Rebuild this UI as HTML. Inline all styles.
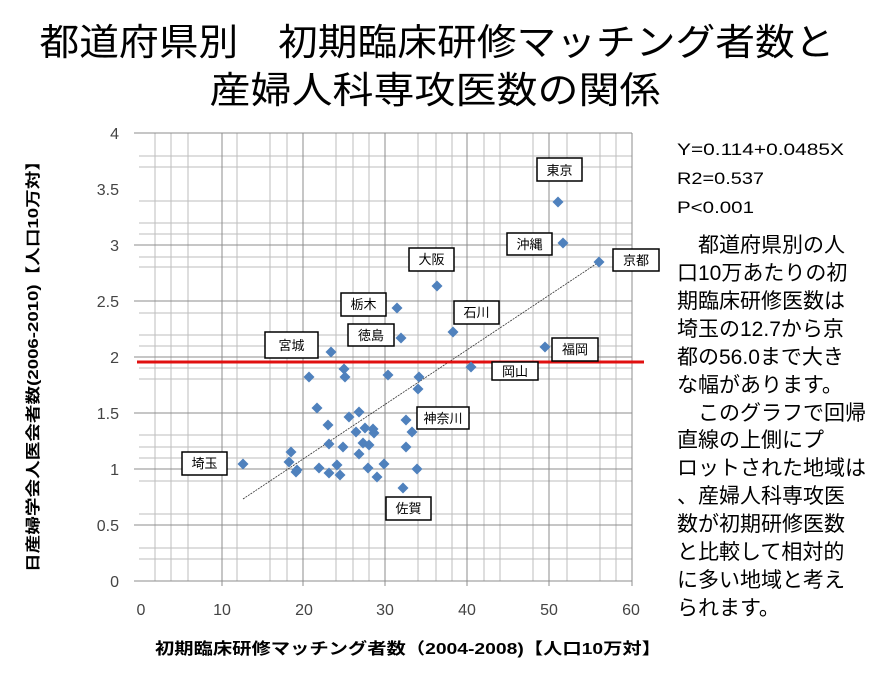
<!DOCTYPE html>
<html><head><meta charset="utf-8"><style>
html,body{margin:0;padding:0;background:#fff;}
body{width:872px;height:672px;overflow:hidden;font-family:"Liberation Sans","Noto Sans CJK JP",sans-serif;}
</style></head><body>
<svg width="872" height="672" viewBox="0 0 872 672" xmlns="http://www.w3.org/2000/svg" font-family="Liberation Sans, Noto Sans CJK JP, sans-serif">
<rect width="872" height="672" fill="#fff"/>
<text x="437" y="55" font-size="37" text-anchor="middle" fill="#000" textLength="795" lengthAdjust="spacingAndGlyphs">都道府県別　初期臨床研修マッチング者数と</text>
<text x="435" y="103" font-size="37" text-anchor="middle" fill="#000" textLength="451" lengthAdjust="spacingAndGlyphs">産婦人科専攻医数の関係</text>
<g stroke="#bdbdbd" stroke-width="1">
<line x1="155" y1="133" x2="155" y2="581"/><line x1="171" y1="133" x2="171" y2="581"/><line x1="188" y1="133" x2="188" y2="581"/>
<line x1="237" y1="133" x2="237" y2="581"/><line x1="270" y1="133" x2="270" y2="581"/><line x1="287" y1="133" x2="287" y2="581"/>
<line x1="336" y1="133" x2="336" y2="581"/><line x1="353" y1="133" x2="353" y2="581"/><line x1="369" y1="133" x2="369" y2="581"/>
<line x1="418" y1="133" x2="418" y2="581"/><line x1="436" y1="133" x2="436" y2="581"/><line x1="452" y1="133" x2="452" y2="581"/>
<line x1="484" y1="133" x2="484" y2="581"/><line x1="500" y1="133" x2="500" y2="581"/><line x1="533" y1="133" x2="533" y2="581"/>
<line x1="567" y1="133" x2="567" y2="581"/><line x1="600" y1="133" x2="600" y2="581"/><line x1="616" y1="133" x2="616" y2="581"/>
<line x1="139" y1="156" x2="632" y2="156"/><line x1="139" y1="167" x2="632" y2="167"/><line x1="139" y1="201" x2="632" y2="201"/>
<line x1="139" y1="223" x2="632" y2="223"/><line x1="139" y1="234" x2="632" y2="234"/><line x1="139" y1="257" x2="632" y2="257"/>
<line x1="139" y1="267" x2="632" y2="267"/><line x1="139" y1="313" x2="632" y2="313"/><line x1="139" y1="335" x2="632" y2="335"/>
<line x1="139" y1="346" x2="632" y2="346"/><line x1="139" y1="368" x2="632" y2="368"/><line x1="139" y1="379" x2="632" y2="379"/>
<line x1="139" y1="435" x2="632" y2="435"/><line x1="139" y1="447" x2="632" y2="447"/><line x1="139" y1="458" x2="632" y2="458"/>
<line x1="139" y1="481" x2="632" y2="481"/><line x1="139" y1="514" x2="632" y2="514"/><line x1="139" y1="548" x2="632" y2="548"/>
<line x1="139" y1="559" x2="632" y2="559"/>
</g>
<g stroke="#8c8c8c" stroke-width="1">
<line x1="222" y1="133" x2="222" y2="586"/><line x1="303" y1="133" x2="303" y2="586"/><line x1="385" y1="133" x2="385" y2="586"/>
<line x1="467" y1="133" x2="467" y2="586"/><line x1="549" y1="133" x2="549" y2="586"/><line x1="632" y1="133" x2="632" y2="586"/>
<line x1="134" y1="133" x2="632" y2="133"/><line x1="134" y1="245" x2="632" y2="245"/><line x1="134" y1="301" x2="632" y2="301"/>
<line x1="134" y1="357" x2="632" y2="357"/><line x1="134" y1="413" x2="632" y2="413"/><line x1="134" y1="469" x2="632" y2="469"/>
<line x1="134" y1="525" x2="632" y2="525"/><line x1="134" y1="581" x2="632" y2="581"/>
</g>
<g font-size="16" fill="#444" text-anchor="end">
<text x="119" y="139">4</text><text x="119" y="195">3.5</text><text x="119" y="251">3</text><text x="119" y="307">2.5</text>
<text x="119" y="363">2</text><text x="119" y="419">1.5</text><text x="119" y="475">1</text><text x="119" y="531">0.5</text><text x="119" y="587">0</text>
</g>
<g font-size="16" fill="#444" text-anchor="middle">
<text x="141" y="615">0</text><text x="222" y="615">10</text><text x="304" y="615">20</text><text x="385" y="615">30</text>
<text x="467" y="615">40</text><text x="549" y="615">50</text><text x="631" y="615">60</text>
</g>
<line x1="243" y1="499" x2="599" y2="262" stroke="#333" stroke-width="0.8" stroke-dasharray="2,1"/>
<line x1="137" y1="362" x2="644" y2="362" stroke="#e01010" stroke-width="3"/>
<g fill="#4f81bd">
<path d="M0,-5.5L5.5,0L0,5.5L-5.5,0Z" transform="translate(558,202)"/>
<path d="M0,-5.5L5.5,0L0,5.5L-5.5,0Z" transform="translate(563,243)"/>
<path d="M0,-5.5L5.5,0L0,5.5L-5.5,0Z" transform="translate(599,262)"/>
<path d="M0,-5.5L5.5,0L0,5.5L-5.5,0Z" transform="translate(437,286)"/>
<path d="M0,-5.5L5.5,0L0,5.5L-5.5,0Z" transform="translate(397,308)"/>
<path d="M0,-5.5L5.5,0L0,5.5L-5.5,0Z" transform="translate(453,332)"/>
<path d="M0,-5.5L5.5,0L0,5.5L-5.5,0Z" transform="translate(401,338)"/>
<path d="M0,-5.5L5.5,0L0,5.5L-5.5,0Z" transform="translate(331,352)"/>
<path d="M0,-5.5L5.5,0L0,5.5L-5.5,0Z" transform="translate(545,347)"/>
<path d="M0,-5.5L5.5,0L0,5.5L-5.5,0Z" transform="translate(471,367)"/>
<path d="M0,-5.5L5.5,0L0,5.5L-5.5,0Z" transform="translate(344,369)"/>
<path d="M0,-5.5L5.5,0L0,5.5L-5.5,0Z" transform="translate(345,377)"/>
<path d="M0,-5.5L5.5,0L0,5.5L-5.5,0Z" transform="translate(309,377)"/>
<path d="M0,-5.5L5.5,0L0,5.5L-5.5,0Z" transform="translate(388,375)"/>
<path d="M0,-5.5L5.5,0L0,5.5L-5.5,0Z" transform="translate(419,377)"/>
<path d="M0,-5.5L5.5,0L0,5.5L-5.5,0Z" transform="translate(418,389)"/>
<path d="M0,-5.5L5.5,0L0,5.5L-5.5,0Z" transform="translate(317,408)"/>
<path d="M0,-5.5L5.5,0L0,5.5L-5.5,0Z" transform="translate(359,412)"/>
<path d="M0,-5.5L5.5,0L0,5.5L-5.5,0Z" transform="translate(349,417)"/>
<path d="M0,-5.5L5.5,0L0,5.5L-5.5,0Z" transform="translate(406,420)"/>
<path d="M0,-5.5L5.5,0L0,5.5L-5.5,0Z" transform="translate(328,425)"/>
<path d="M0,-5.5L5.5,0L0,5.5L-5.5,0Z" transform="translate(356,432)"/>
<path d="M0,-5.5L5.5,0L0,5.5L-5.5,0Z" transform="translate(365,428)"/>
<path d="M0,-5.5L5.5,0L0,5.5L-5.5,0Z" transform="translate(373,429)"/>
<path d="M0,-5.5L5.5,0L0,5.5L-5.5,0Z" transform="translate(374,433)"/>
<path d="M0,-5.5L5.5,0L0,5.5L-5.5,0Z" transform="translate(412,432)"/>
<path d="M0,-5.5L5.5,0L0,5.5L-5.5,0Z" transform="translate(329,444)"/>
<path d="M0,-5.5L5.5,0L0,5.5L-5.5,0Z" transform="translate(343,447)"/>
<path d="M0,-5.5L5.5,0L0,5.5L-5.5,0Z" transform="translate(363,443)"/>
<path d="M0,-5.5L5.5,0L0,5.5L-5.5,0Z" transform="translate(369,445)"/>
<path d="M0,-5.5L5.5,0L0,5.5L-5.5,0Z" transform="translate(406,447)"/>
<path d="M0,-5.5L5.5,0L0,5.5L-5.5,0Z" transform="translate(359,454)"/>
<path d="M0,-5.5L5.5,0L0,5.5L-5.5,0Z" transform="translate(291,452)"/>
<path d="M0,-5.5L5.5,0L0,5.5L-5.5,0Z" transform="translate(243,464)"/>
<path d="M0,-5.5L5.5,0L0,5.5L-5.5,0Z" transform="translate(289,462)"/>
<path d="M0,-5.5L5.5,0L0,5.5L-5.5,0Z" transform="translate(296,472)"/>
<path d="M0,-5.5L5.5,0L0,5.5L-5.5,0Z" transform="translate(297,470)"/>
<path d="M0,-5.5L5.5,0L0,5.5L-5.5,0Z" transform="translate(319,468)"/>
<path d="M0,-5.5L5.5,0L0,5.5L-5.5,0Z" transform="translate(337,465)"/>
<path d="M0,-5.5L5.5,0L0,5.5L-5.5,0Z" transform="translate(329,473)"/>
<path d="M0,-5.5L5.5,0L0,5.5L-5.5,0Z" transform="translate(340,475)"/>
<path d="M0,-5.5L5.5,0L0,5.5L-5.5,0Z" transform="translate(368,468)"/>
<path d="M0,-5.5L5.5,0L0,5.5L-5.5,0Z" transform="translate(384,464)"/>
<path d="M0,-5.5L5.5,0L0,5.5L-5.5,0Z" transform="translate(377,477)"/>
<path d="M0,-5.5L5.5,0L0,5.5L-5.5,0Z" transform="translate(417,469)"/>
<path d="M0,-5.5L5.5,0L0,5.5L-5.5,0Z" transform="translate(403,488)"/>
</g>
<g font-size="13" text-anchor="middle" fill="#000">
<g><rect x="537" y="158" width="45" height="23" fill="#fff" stroke="#000" stroke-width="1.5"/><text x="559.5" y="175">東京</text></g>
<g><rect x="507" y="233" width="45" height="22" fill="#fff" stroke="#000" stroke-width="1.5"/><text x="529.5" y="249">沖縄</text></g>
<g><rect x="613" y="249" width="46" height="22" fill="#fff" stroke="#000" stroke-width="1.5"/><text x="636" y="265">京都</text></g>
<g><rect x="409" y="248" width="45" height="23" fill="#fff" stroke="#000" stroke-width="1.5"/><text x="431.5" y="264">大阪</text></g>
<g><rect x="341" y="293" width="45" height="23" fill="#fff" stroke="#000" stroke-width="1.5"/><text x="363.5" y="309">栃木</text></g>
<g><rect x="454" y="301" width="45" height="23" fill="#fff" stroke="#000" stroke-width="1.5"/><text x="476.5" y="317">石川</text></g>
<g><rect x="348" y="324" width="46" height="22" fill="#fff" stroke="#000" stroke-width="1.5"/><text x="371" y="340">徳島</text></g>
<g><rect x="265" y="332" width="53" height="26" fill="#fff" stroke="#000" stroke-width="1.5"/><text x="291.5" y="350">宮城</text></g>
<g><rect x="552" y="338" width="46" height="23" fill="#fff" stroke="#000" stroke-width="1.5"/><text x="575" y="354">福岡</text></g>
<g><rect x="492" y="362" width="46" height="18" fill="#fff" stroke="#000" stroke-width="1.5"/><text x="515" y="376">岡山</text></g>
<g><rect x="417" y="407" width="52" height="22" fill="#fff" stroke="#000" stroke-width="1.5"/><text x="443" y="423">神奈川</text></g>
<g><rect x="182" y="452" width="45" height="23" fill="#fff" stroke="#000" stroke-width="1.5"/><text x="204.5" y="468">埼玉</text></g>
<g><rect x="386" y="497" width="45" height="23" fill="#fff" stroke="#000" stroke-width="1.5"/><text x="408.5" y="513">佐賀</text></g>
</g>
<text x="408" y="654" font-size="16" font-weight="bold" text-anchor="middle" fill="#000" textLength="506" lengthAdjust="spacingAndGlyphs">初期臨床研修マッチング者数（2004-2008)【人口10万対】</text>
<text transform="translate(38,362) rotate(-90)" font-size="15" font-weight="bold" text-anchor="middle" fill="#000" textLength="420" lengthAdjust="spacingAndGlyphs">日産婦学会人医会者数(2006-2010)【人口10万対】</text>
<g font-size="17" fill="#000">
<text x="677" y="155" textLength="167" lengthAdjust="spacingAndGlyphs">Y=0.114+0.0485X</text>
<text x="677" y="184" textLength="87" lengthAdjust="spacingAndGlyphs">R2=0.537</text>
<text x="677" y="213" textLength="77" lengthAdjust="spacingAndGlyphs">P&lt;0.001</text>
</g>
<g font-size="21" fill="#000">
<text x="677" y="252">　都道府県別の人</text>
<text x="677" y="280">口10万あたりの初</text>
<text x="677" y="308">期臨床研修医数は</text>
<text x="677" y="336">埼玉の12.7から京</text>
<text x="677" y="364">都の56.0まで大き</text>
<text x="677" y="392">な幅があります。</text>
<text x="677" y="420">　このグラフで回帰</text>
<text x="677" y="447">直線の上側にプ</text>
<text x="677" y="475">ロットされた地域は</text>
<text x="677" y="503">、産婦人科専攻医</text>
<text x="677" y="531">数が初期研修医数</text>
<text x="677" y="559">と比較して相対的</text>
<text x="677" y="587">に多い地域と考え</text>
<text x="677" y="615">られます。</text>
</g>
</svg>
</body></html>
